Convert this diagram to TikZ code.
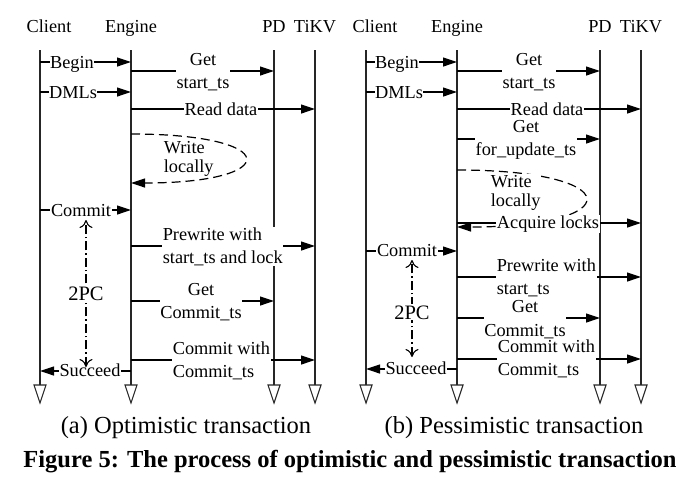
\documentclass[tikz,border=0pt]{standalone}
\usepackage{fontspec}
\setmainfont{Liberation Serif}
\usetikzlibrary{arrows.meta}
\tikzset{
  lab/.style={font=\fontsize{18.3}{22.5}\selectfont, inner sep=0.6pt},
  msglab/.style={lab, fill=white, anchor=base},
  msglabL/.style={msglab, align=left},
  msglabC/.style={msglab, align=center},
  head/.style={lab, anchor=base},
  life/.style={line width=1.3pt, draw=black!85},
  endtri/.style={line width=1.1pt, draw=black!85, fill=white},
  msg/.style={line width=1.2pt, -{Triangle[length=14pt,width=9pt]}},
  selfmsg/.style={line width=1.2pt, dash pattern=on 9pt off 5pt, -{Triangle[length=14pt,width=9pt]}},
  twopc/.style={line width=1.1pt, dash pattern=on 9pt off 3pt on 1.5pt off 3pt,
     {Computer Modern Rightarrow[length=8pt,width=13pt,line width=1.1pt]}-{Computer Modern Rightarrow[length=8pt,width=13pt,line width=1.1pt]}},
  twopclab/.style={font=\fontsize{20.5}{24}\selectfont, fill=white, inner sep=1pt, anchor=base},
  captext/.style={font=\fontsize{24.5}{28}\selectfont, anchor=base, inner sep=0pt},
}
\begin{document}
\begin{tikzpicture}[x=1pt,y=-1pt]
\useasboundingbox (0,0) rectangle (689,480);

% ================= Panel (a) =================
\begin{scope}
  \node[head] (aHc) at (49,32) {Client};
  \node[head] (aHe) at (131,32) {Engine};
  \node[head] (aHp) at (274,32) {PD};
  \node[head] (aHt) at (315,32) {TiKV};
  \coordinate (aC) at (40,50);  \coordinate (aCb) at (40,385);
  \coordinate (aE) at (131,50); \coordinate (aEb) at (131,385);
  \coordinate (aP) at (274,50); \coordinate (aPb) at (274,385);
  \coordinate (aT) at (315,50); \coordinate (aTb) at (315,385);
  \foreach \l in {aC,aE,aP,aT}{
    \draw[life] (\l) -- (\l b);
    \draw[endtri] ([xshift=-6pt]\l b) -- ([xshift=6pt]\l b) -- ([yshift=-18pt]\l b) -- cycle;
  }
  % message heights
  \coordinate (ay1) at (0,62);  \coordinate (ay2) at (0,71);
  \coordinate (ay3) at (0,92);  \coordinate (ay4) at (0,109);
  \coordinate (ay5a) at (0,134); \coordinate (ay5b) at (0,183);
  \coordinate (ay6) at (0,210); \coordinate (ay7) at (0,246);
  \coordinate (ay8) at (0,301); \coordinate (ay9) at (0,360);
  \coordinate (ay10) at (0,371);
  % Begin
  \draw[msg] (aC |- ay1) -- (aE |- ay1);
  \node[msglab] (aBegin) at (72,68) {Begin};
  % Get start_ts
  \draw[msg] (aE |- ay2) -- (aP |- ay2);
  \node[msglabC] (aGetTs) at (203,88) {Get\\start\_ts};
  % DMLs
  \draw[msg] (aC |- ay3) -- (aE |- ay3);
  \node[msglab] (aDML) at (73,98) {DMLs};
  % Read data
  \draw[msg] (aE |- ay4) -- (aT |- ay4);
  \node[msglab] (aRead) at (221,115) {Read data};
  % Write locally
  \draw[selfmsg] (aE |- ay5a) .. controls (283,134) and (283,183) .. (aE |- ay5b);
  \node[msglabL, anchor=base west, fill=none] (aWrite) at (163,172) {Write\\[-3.5pt]locally};
  % Commit
  \draw[msg] (aC |- ay6) -- (aE |- ay6);
  \node[msglab] (aCommit) at (81,216) {Commit};
  % Prewrite
  \draw[msg] (aE |- ay7) -- (aT |- ay7);
  \node[msglabL, anchor=base west] (aPre) at (162,263) {Prewrite with\\start\_ts and lock};
  % Get Commit_ts
  \draw[msg] (aE |- ay8) -- (aP |- ay8);
  \node[msglabC] (aGetC) at (201,318) {Get\\Commit\_ts};
  % Commit with Commit_ts
  \draw[msg] (aE |- ay9) -- (aT |- ay9);
  \node[msglabL, anchor=base west] (aCw) at (172,377) {Commit with\\Commit\_ts};
  % Succeed
  \draw[msg] (aE |- ay10) -- (aC |- ay10);
  \node[msglab] (aSucc) at (90,376) {Succeed};
  % 2PC
  \coordinate (a2t) at (86,220); \coordinate (a2b) at (86,367);
  \draw[twopc] (a2b) -- (a2t);
  \node[twopclab] (a2pc) at (86,300) {2PC};
\end{scope}

% ================= Panel (b) =================
\begin{scope}[xshift=326pt]
  \node[head] (bHc) at (49,32) {Client};
  \node[head] (bHe) at (131,32) {Engine};
  \node[head] (bHp) at (274,32) {PD};
  \node[head] (bHt) at (315,32) {TiKV};
  \coordinate (bC) at (40,50);  \coordinate (bCb) at (40,385);
  \coordinate (bE) at (131,50); \coordinate (bEb) at (131,385);
  \coordinate (bP) at (274,50); \coordinate (bPb) at (274,385);
  \coordinate (bT) at (315,50); \coordinate (bTb) at (315,385);
  \foreach \l in {bC,bE,bP,bT}{
    \draw[life] (\l) -- (\l b);
    \draw[endtri] ([xshift=-6pt]\l b) -- ([xshift=6pt]\l b) -- ([yshift=-18pt]\l b) -- cycle;
  }
  \coordinate (by1) at (0,62);  \coordinate (by2) at (0,71);
  \coordinate (by3) at (0,92);  \coordinate (by4) at (0,109);
  \coordinate (by5) at (0,139);
  \coordinate (by6a) at (0,170); \coordinate (by6b) at (0,227);
  \coordinate (by7) at (0,223);
  \coordinate (by8) at (0,251); \coordinate (by9) at (0,277);
  \coordinate (by10) at (0,318); \coordinate (by11) at (0,359);
  \coordinate (by12) at (0,369);
  % Begin
  \draw[msg] (bC |- by1) -- (bE |- by1);
  \node[msglab] (bBegin) at (71,68) {Begin};
  % Get start_ts
  \draw[msg] (bE |- by2) -- (bP |- by2);
  \node[msglabC] (bGetTs) at (203,88) {Get\\start\_ts};
  % DMLs
  \draw[msg] (bC |- by3) -- (bE |- by3);
  \node[msglab] (bDML) at (73,98) {DMLs};
  % Read data
  \draw[msg] (bE |- by4) -- (bT |- by4);
  \node[msglab] (bRead) at (221,115) {Read data};
  % Get for_update_ts
  \draw[msg] (bE |- by5) -- (bP |- by5);
  \node[msglabC] (bGetU) at (200,155) {Get\\for\_update\_ts};
  % Write locally
  \draw[selfmsg] (bE |- by6a) .. controls (302,170) and (302,227) .. (bE |- by6b);
  \node[msglabL, anchor=base west] (bWrite) at (164,206) {Write\\[-3.5pt]locally};
  % Acquire locks
  \draw[msg] (bE |- by7) -- (bT |- by7);
  \node[msglab] (bAcq) at (222,228) {Acquire locks};
  % Commit
  \draw[msg] (bC |- by8) -- (bE |- by8);
  \node[msglab] (bCommit) at (81,256) {Commit};
  % Prewrite with start_ts
  \draw[msg] (bE |- by9) -- (bT |- by9);
  \node[msglabL, anchor=base west] (bPre) at (170,294) {Prewrite with\\start\_ts};
  % Get Commit_ts
  \draw[msg] (bE |- by10) -- (bP |- by10);
  \node[msglabC] (bGetC) at (199,336) {Get\\[1.5pt]Commit\_ts};
  % Commit with Commit_ts
  \draw[msg] (bE |- by11) -- (bT |- by11);
  \node[msglabL, anchor=base west] (bCw) at (171,375) {Commit with\\Commit\_ts};
  % Succeed
  \draw[msg] (bE |- by12) -- (bC |- by12);
  \node[msglab] (bSucc) at (90,374) {Succeed};
  % 2PC
  \coordinate (b2t) at (86,260); \coordinate (b2b) at (86,357);
  \draw[twopc] (b2b) -- (b2t);
  \node[twopclab] (b2pc) at (86,319) {2PC};
\end{scope}

% captions
\node[captext] (capa) at (186,433) {(a) Optimistic transaction};
\node[captext] (capb) at (514,433) {(b) Pessimistic transaction};
\node[captext, font=\fontsize{24.5}{28}\selectfont\bfseries] (fig) at (350,467) {Figure 5: The process of optimistic and pessimistic transaction};
\end{tikzpicture}
\end{document}
